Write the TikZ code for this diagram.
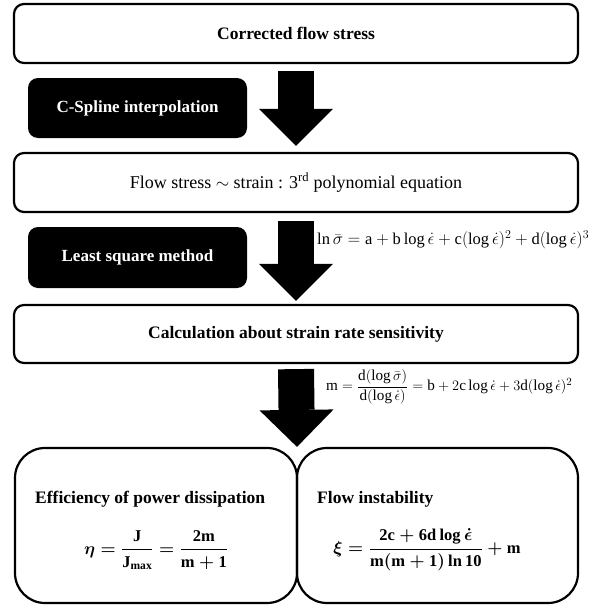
\documentclass[tikz,border=0pt]{standalone}
\usepackage{amsmath}
\usepackage{fontspec}
\setmainfont{Liberation Serif}
\usetikzlibrary{arrows.meta,calc,positioning}

\tikzset{
  flowbox/.style={draw, line width=2.2pt, rounded corners=10pt, minimum width=564pt,
    minimum height=59pt, inner sep=0pt, font=\bfseries\fontsize{17.5}{20}\selectfont},
  darkbox/.style={fill=black, rounded corners=10pt, minimum width=219pt, minimum height=60pt,
    inner sep=0pt, text=white, font=\bfseries\fontsize{17}{20}\selectfont},
  splitbox/.style={draw, line width=2.2pt, rounded corners=30pt, minimum width=282pt,
    minimum height=155pt, inner sep=0pt},
  blockarrow/.style={line width=36pt, -{Triangle[length=37pt,width=74pt,line width=0pt]}},
  eqlabel/.style={anchor=west, inner sep=0pt, font=\fontsize{16.5}{19}\selectfont},
  headlabel/.style={anchor=west, inner sep=0pt, font=\bfseries\fontsize{17.5}{20}\selectfont},
  boldeq/.style={inner sep=0pt, font=\boldmath\fontsize{16.5}{19}\selectfont},
}

\begin{document}
\begin{tikzpicture}[x=1pt,y=-1pt]
  \useasboundingbox (0,0) rectangle (601,605);

  % main steps
  \node[flowbox] (corr) at (296,33.5) {Corrected flow stress};
  \node[flowbox, font=\fontsize{18}{21}\selectfont] (poly) at (296,182.5)
    {Flow stress $\sim$ strain : 3\textsuperscript{rd} polynomial equation};
  \node[flowbox, minimum height=58pt] (sens) at (296,334) {Calculation about strain rate sensitivity};

  % methods
  \node[darkbox] (spline) at (137.5,108) {C-Spline interpolation};
  \node[darkbox, minimum height=61pt] (lsq) at (137.5,257.5) {Least square method};

  % results
  \node[splitbox] (eff) at (156,525.5) {};
  \node[splitbox, minimum width=281pt] (inst) at (437.5,525.5) {};
  \coordinate (split) at ($(eff.north east)!0.5!(inst.north west)$);

  % block arrows
  \draw[blockarrow] ([yshift=-7pt]corr.south) -- ([yshift=6pt]poly.north);
  \draw[blockarrow] ([yshift=-8pt]poly.south) -- ([yshift=3pt]sens.north);
  \draw[blockarrow] ([yshift=-5pt]sens.south) -- (split);

  % equations beside the arrows
  \node[eqlabel] (fiteq) at (317,240)
    {$\ln\bar{\sigma} = \mathrm{a} + \mathrm{b}\log\dot{\epsilon} + \mathrm{c}(\log\dot{\epsilon})^2 + \mathrm{d}(\log\dot{\epsilon})^3$};
  \node[eqlabel, font=\fontsize{15.2}{18}\selectfont] (rateeq) at (326,387)
    {$\mathrm{m} = \dfrac{\mathrm{d}(\log\bar{\sigma})}{\mathrm{d}(\log\dot{\epsilon})} = \mathrm{b} + 2\mathrm{c}\log\dot{\epsilon} + 3\mathrm{d}(\log\dot{\epsilon})^2$};

  % text in the result boxes
  \node[headlabel] (effhead) at (35,499) {Efficiency of power dissipation};
  \node[boldeq] (effeq) at (156,550)
    {$\eta = \dfrac{\textbf{J}}{\textbf{J}_{\textbf{max}}} = \dfrac{\textbf{2m}}{\textbf{m} + \textbf{1}}$};
  \node[headlabel] (insthead) at (317,499) {Flow instability};
  \node[boldeq] (insteq) at (427,550)
    {$\xi = \dfrac{\textbf{2c} + \textbf{6d}\log\dot{\epsilon}}{\textbf{m}(\textbf{m} + \textbf{1})\ln\textbf{10}} + \textbf{m}$};
\end{tikzpicture}
\end{document}
